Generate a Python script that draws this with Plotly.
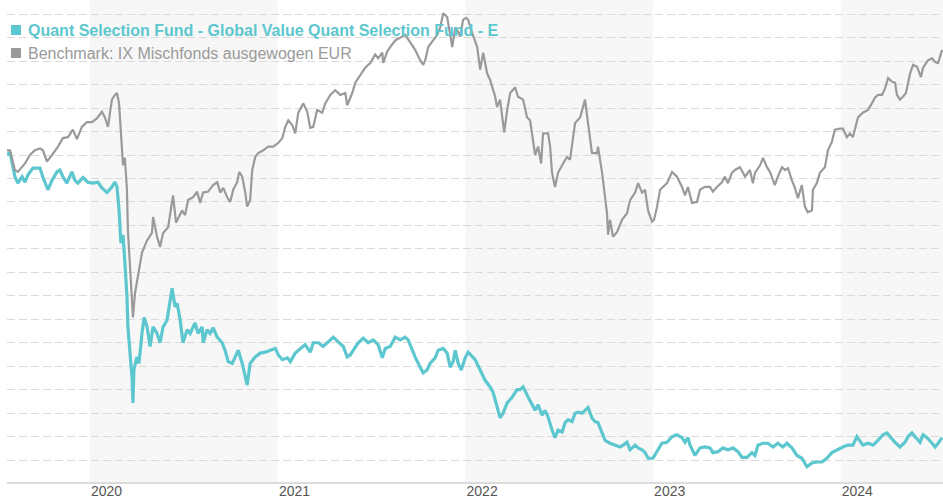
import pandas as pd
import plotly.graph_objects as go

# ---------------- data (decimal years, performance in %) ----------------
bench_t = [2019.558, 2019.574, 2019.600, 2019.616, 2019.654, 2019.680, 2019.707, 2019.734, 2019.750, 2019.771,
           2019.798, 2019.830, 2019.856, 2019.883, 2019.909, 2019.931, 2019.957, 2019.984, 2020.011, 2020.037,
           2020.064, 2020.080, 2020.096, 2020.117, 2020.133, 2020.144, 2020.155, 2020.165, 2020.176, 2020.186,
           2020.197, 2020.202, 2020.213, 2020.224, 2020.229, 2020.240, 2020.256, 2020.277, 2020.304, 2020.330,
           2020.336, 2020.357, 2020.373, 2020.389, 2020.416, 2020.437, 2020.442, 2020.458, 2020.480, 2020.490,
           2020.506, 2020.522, 2020.549, 2020.570, 2020.586, 2020.602, 2020.629, 2020.655, 2020.677, 2020.693,
           2020.709, 2020.730, 2020.746, 2020.762, 2020.783, 2020.794, 2020.810, 2020.826, 2020.836, 2020.852,
           2020.863, 2020.879, 2020.895, 2020.922, 2020.948, 2020.975, 2021.002, 2021.023, 2021.039, 2021.055,
           2021.076, 2021.092, 2021.108, 2021.135, 2021.156, 2021.172, 2021.188, 2021.209, 2021.236, 2021.252,
           2021.279, 2021.305, 2021.332, 2021.359, 2021.369, 2021.396, 2021.412, 2021.438, 2021.465, 2021.492,
           2021.518, 2021.534, 2021.556, 2021.561, 2021.582, 2021.598, 2021.625, 2021.652, 2021.678, 2021.705,
           2021.731, 2021.758, 2021.774, 2021.785, 2021.801, 2021.827, 2021.849, 2021.865, 2021.881, 2021.902,
           2021.918, 2021.929, 2021.945, 2021.961, 2021.971, 2021.987, 2022.003, 2022.014, 2022.035, 2022.051,
           2022.062, 2022.078, 2022.094, 2022.115, 2022.131, 2022.158, 2022.168, 2022.184, 2022.195, 2022.206,
           2022.222, 2022.238, 2022.264, 2022.280, 2022.307, 2022.328, 2022.344, 2022.360, 2022.371, 2022.387,
           2022.403, 2022.413, 2022.440, 2022.451, 2022.461, 2022.477, 2022.493, 2022.520, 2022.541, 2022.557,
           2022.568, 2022.584, 2022.611, 2022.637, 2022.653, 2022.674, 2022.701, 2022.706, 2022.728, 2022.738,
           2022.754, 2022.760, 2022.770, 2022.786, 2022.808, 2022.834, 2022.861, 2022.877, 2022.904, 2022.920,
           2022.941, 2022.957, 2022.973, 2022.994, 2023.005, 2023.021, 2023.037, 2023.074, 2023.101, 2023.127,
           2023.154, 2023.170, 2023.186, 2023.207, 2023.234, 2023.250, 2023.276, 2023.303, 2023.319, 2023.340,
           2023.367, 2023.383, 2023.399, 2023.420, 2023.436, 2023.463, 2023.490, 2023.516, 2023.532, 2023.543,
           2023.570, 2023.586, 2023.607, 2023.623, 2023.649, 2023.665, 2023.687, 2023.703, 2023.719, 2023.740,
           2023.756, 2023.772, 2023.793, 2023.809, 2023.825, 2023.847, 2023.852, 2023.873, 2023.889, 2023.916,
           2023.932, 2023.953, 2023.969, 2023.996, 2024.012, 2024.033, 2024.049, 2024.065, 2024.092, 2024.118,
           2024.145, 2024.166, 2024.182, 2024.198, 2024.220, 2024.236, 2024.252, 2024.273, 2024.289, 2024.299,
           2024.315, 2024.331, 2024.347, 2024.369, 2024.385, 2024.406, 2024.427, 2024.438, 2024.465, 2024.486,
           2024.502, 2024.518, 2024.539]
bench_v = [0.5, 0.5, -1.6, -1.8, -0.9, 0.0, 0.5, 0.7, 0.5, -0.7,
           0.0, 0.9, 1.8, 1.9, 2.7, 1.7, 3.0, 3.5, 3.5, 3.9,
           4.6, 4.0, 3.0, 5.9, 6.4, 6.6, 5.5, 2.7, -1.1, -0.3,
           -3.7, -8.0, -11.9, -16.5, -17.3, -14.7, -13.0, -10.4, -9.1, -8.3,
           -6.6, -8.7, -9.8, -8.3, -7.7, -5.1, -4.3, -7.2, -6.2, -5.9,
           -6.4, -4.8, -4.5, -3.9, -5.1, -4.0, -3.9, -3.2, -2.9, -4.0,
           -3.5, -4.5, -5.0, -3.7, -2.9, -1.8, -2.3, -4.0, -5.5, -4.8,
           -1.6, -0.2, 0.2, 0.5, 0.9, 0.9, 1.3, 1.8, 3.0, 3.7,
           3.2, 2.3, 4.5, 5.5, 4.6, 2.9, 3.0, 4.8, 4.5, 5.5,
           6.4, 6.9, 6.4, 6.6, 5.3, 6.6, 7.7, 8.5, 9.3, 9.8,
           10.7, 10.3, 10.9, 9.8, 11.0, 11.5, 12.2, 12.5, 12.8, 12.0,
           11.2, 10.1, 9.6, 10.1, 11.5, 12.2, 12.8, 13.6, 15.1, 14.7,
           12.6, 11.5, 13.6, 13.1, 12.6, 14.4, 14.6, 14.4, 13.0, 12.2,
           11.5, 9.1, 10.9, 8.7, 8.0, 6.2, 5.1, 5.9, 4.0, 2.4,
           4.8, 6.6, 7.2, 6.2, 5.9, 4.0, 3.7, 1.6, 0.0, 0.9,
           -0.9, 2.3, 2.3, 0.9, -1.9, -3.4, -1.9, -0.9, -0.2, -0.5,
           0.9, 3.4, 4.0, 5.9, 3.4, 0.2, 0.2, 0.9, -1.9, -3.4,
           -6.2, -8.5, -6.9, -8.7, -8.2, -6.9, -6.2, -4.8, -4.0, -3.0,
           -4.0, -3.7, -5.9, -7.1, -6.9, -5.5, -3.7, -3.0, -1.8, -2.3,
           -3.4, -4.3, -3.4, -5.1, -5.0, -3.7, -3.4, -3.4, -3.9, -3.4,
           -2.9, -2.3, -3.0, -1.9, -1.6, -1.3, -2.3, -1.6, -3.0, -1.9,
           -1.1, -0.3, -1.3, -1.8, -3.2, -2.3, -1.3, -1.6, -1.4, -2.7,
           -3.5, -4.6, -3.2, -5.5, -6.1, -5.9, -3.7, -3.0, -1.9, -1.3,
           0.5, 1.4, 2.7, 2.8, 2.8, 1.9, 2.3, 1.9, 4.0, 4.5,
           4.8, 5.5, 6.1, 6.4, 6.4, 7.1, 8.2, 7.8, 7.7, 6.4,
           5.9, 6.2, 6.6, 8.7, 9.6, 9.4, 8.3, 9.3, 10.1, 10.3,
           9.9, 9.8, 11.2]

fund_t = [2019.558, 2019.574, 2019.590, 2019.600, 2019.616, 2019.638, 2019.654, 2019.670, 2019.696, 2019.734,
          2019.750, 2019.776, 2019.798, 2019.824, 2019.840, 2019.856, 2019.877, 2019.893, 2019.904, 2019.920,
          2019.936, 2019.963, 2019.989, 2020.016, 2020.043, 2020.064, 2020.091, 2020.117, 2020.133, 2020.144,
          2020.155, 2020.165, 2020.176, 2020.186, 2020.197, 2020.202, 2020.213, 2020.224, 2020.229, 2020.234,
          2020.250, 2020.261, 2020.277, 2020.288, 2020.304, 2020.320, 2020.336, 2020.357, 2020.373, 2020.389,
          2020.410, 2020.426, 2020.437, 2020.453, 2020.464, 2020.480, 2020.495, 2020.517, 2020.533, 2020.559,
          2020.575, 2020.597, 2020.602, 2020.623, 2020.639, 2020.655, 2020.677, 2020.703, 2020.719, 2020.735,
          2020.757, 2020.773, 2020.789, 2020.810, 2020.826, 2020.836, 2020.852, 2020.879, 2020.906, 2020.932,
          2020.959, 2020.986, 2021.002, 2021.023, 2021.050, 2021.066, 2021.092, 2021.119, 2021.145, 2021.172,
          2021.188, 2021.215, 2021.241, 2021.268, 2021.295, 2021.321, 2021.348, 2021.369, 2021.385, 2021.401,
          2021.428, 2021.454, 2021.481, 2021.508, 2021.534, 2021.556, 2021.572, 2021.598, 2021.625, 2021.652,
          2021.678, 2021.694, 2021.716, 2021.731, 2021.758, 2021.774, 2021.795, 2021.811, 2021.838, 2021.854,
          2021.881, 2021.902, 2021.918, 2021.934, 2021.945, 2021.961, 2021.977, 2021.998, 2022.014, 2022.035,
          2022.051, 2022.078, 2022.104, 2022.131, 2022.147, 2022.168, 2022.184, 2022.200, 2022.222, 2022.248,
          2022.275, 2022.291, 2022.307, 2022.334, 2022.355, 2022.371, 2022.387, 2022.408, 2022.424, 2022.440,
          2022.461, 2022.477, 2022.493, 2022.515, 2022.531, 2022.547, 2022.568, 2022.584, 2022.600, 2022.621,
          2022.637, 2022.653, 2022.674, 2022.690, 2022.706, 2022.728, 2022.744, 2022.770, 2022.797, 2022.824,
          2022.840, 2022.861, 2022.877, 2022.904, 2022.920, 2022.941, 2022.957, 2022.973, 2022.999, 2023.021,
          2023.047, 2023.074, 2023.101, 2023.127, 2023.154, 2023.170, 2023.186, 2023.197, 2023.223, 2023.250,
          2023.276, 2023.303, 2023.319, 2023.346, 2023.372, 2023.399, 2023.426, 2023.452, 2023.474, 2023.500,
          2023.527, 2023.543, 2023.559, 2023.586, 2023.612, 2023.639, 2023.665, 2023.692, 2023.713, 2023.740,
          2023.767, 2023.793, 2023.820, 2023.847, 2023.873, 2023.900, 2023.926, 2023.953, 2023.980, 2024.012,
          2024.038, 2024.065, 2024.086, 2024.102, 2024.118, 2024.145, 2024.172, 2024.198, 2024.225, 2024.246,
          2024.262, 2024.289, 2024.315, 2024.342, 2024.358, 2024.379, 2024.395, 2024.422, 2024.438, 2024.459,
          2024.486, 2024.502, 2024.518, 2024.539]
fund_v = [0.0, 0.3, -1.3, -2.3, -3.0, -2.3, -2.9, -2.1, -1.4, -1.4,
          -2.4, -3.7, -2.7, -1.8, -1.6, -2.3, -3.0, -2.3, -1.8, -2.7,
          -3.0, -2.4, -2.9, -3.0, -2.9, -3.5, -4.0, -3.4, -2.9, -3.4,
          -5.9, -9.4, -8.5, -11.5, -15.1, -18.3, -21.1, -23.7, -26.4, -22.9,
          -21.5, -22.2, -19.0, -17.3, -18.3, -20.4, -18.3, -19.0, -20.0, -18.3,
          -17.6, -15.4, -14.2, -16.2, -15.8, -17.6, -20.0, -18.6, -19.0, -17.9,
          -19.0, -18.3, -20.0, -18.6, -19.0, -18.4, -19.4, -20.0, -20.8, -22.0,
          -22.2, -21.5, -20.8, -22.2, -23.6, -24.5, -22.2, -21.5, -21.1, -21.0,
          -20.8, -20.6, -21.3, -21.8, -21.6, -22.0, -21.1, -20.6, -20.2, -21.0,
          -20.0, -20.0, -20.4, -19.9, -19.4, -19.9, -20.4, -21.5, -21.3, -20.8,
          -20.0, -19.5, -20.0, -19.7, -20.2, -21.6, -20.6, -20.4, -19.4, -19.7,
          -19.4, -19.7, -20.8, -21.5, -22.6, -23.2, -22.9, -22.2, -21.6, -20.8,
          -20.6, -21.1, -22.6, -22.0, -20.8, -22.2, -22.9, -21.6, -21.0, -21.5,
          -21.8, -22.9, -24.0, -24.7, -25.3, -26.8, -28.0, -27.5, -26.4, -25.8,
          -25.0, -25.0, -24.7, -25.8, -26.6, -27.2, -26.6, -27.7, -27.2, -27.9,
          -29.3, -30.1, -29.3, -29.5, -28.5, -28.2, -28.4, -27.5, -27.4, -27.5,
          -27.2, -26.9, -28.0, -28.4, -28.5, -29.6, -30.4, -30.7, -30.9, -31.1,
          -30.9, -30.6, -31.4, -30.9, -31.2, -31.4, -31.7, -32.3, -32.3, -31.6,
          -30.7, -30.6, -30.0, -29.8, -30.1, -30.6, -30.1, -30.9, -32.0, -31.2,
          -31.1, -31.2, -31.7, -31.6, -31.2, -31.4, -31.2, -31.6, -32.2, -32.2,
          -31.7, -32.0, -30.9, -30.7, -30.7, -31.1, -30.7, -31.1, -30.7, -31.2,
          -32.0, -32.3, -33.2, -32.8, -32.7, -32.7, -32.3, -31.7, -31.4, -31.1,
          -30.9, -30.9, -30.0, -30.4, -30.9, -30.7, -30.9, -30.4, -29.8, -29.6,
          -30.0, -30.6, -31.1, -30.6, -30.0, -29.6, -30.0, -30.6, -29.8, -30.1,
          -30.7, -31.1, -30.7, -30.1]

series_names = ["Quant Selection Fund - Global Value Quant Selection Fund - E",
                "Benchmark: IX Mischfonds ausgewogen EUR"]
tick_years = [2020, 2021, 2022, 2023, 2024]
band_years = [2020, 2022, 2024]

assert len(bench_t) == len(bench_v), (len(bench_t), len(bench_v))
assert len(fund_t) == len(fund_v), (len(fund_t), len(fund_v))

FUND_COLOR = "#5cc7ce"
BENCH_COLOR = "#9a9a9a"


def to_date(t):
    y = int(t)
    start = pd.Timestamp(year=y, month=1, day=1)
    end = pd.Timestamp(year=y + 1, month=1, day=1)
    return start + (end - start) * (t - y)


bench_d = [to_date(t) for t in bench_t]
fund_d = [to_date(t) for t in fund_t]

fig = go.Figure()
fig.add_trace(go.Scatter(x=fund_d, y=fund_v, mode="lines", name=series_names[0],
                         line=dict(color=FUND_COLOR, width=3.2)))
fig.add_trace(go.Scatter(x=bench_d, y=bench_v, mode="lines", name=series_names[1],
                         line=dict(color=BENCH_COLOR, width=2.2)))

for y in band_years:
    fig.add_shape(type="rect", xref="x", yref="paper",
                  x0=f"{y}-01-01", x1=f"{y + 1}-01-01", y0=0, y1=1,
                  fillcolor="rgba(244,244,244,0.72)", line=dict(width=0), layer="between")

# legend (custom, top-left, drawn over plot)
legend_colors = [FUND_COLOR, BENCH_COLOR]
legend_weights = ["bold", "normal"]
for i, (name, col) in enumerate(zip(series_names, legend_colors)):
    yoff = -30 - 23 * i
    fig.add_shape(type="rect", xref="paper", yref="paper",
                  xsizemode="pixel", ysizemode="pixel", xanchor=0, yanchor=1,
                  x0=4, x1=14, y0=yoff - 5, y1=yoff + 5,
                  fillcolor=col, line=dict(width=0), layer="above")
    txt = f"<b>{name}</b>" if legend_weights[i] == "bold" else name
    fig.add_annotation(x=0, y=1, xref="paper", yref="paper", xanchor="left", yanchor="middle",
                       xshift=19, yshift=yoff, text=txt, showarrow=False,
                       font=dict(family="Liberation Sans, Arial, sans-serif", size=16, color=col))

fig.update_layout(
    width=943, height=500,
    margin=dict(l=7, r=0, t=0, b=18, autoexpand=False),
    paper_bgcolor="white", plot_bgcolor="white",
    showlegend=False,
    hovermode=False,
)
fig.update_xaxes(
    type="date", automargin=False,
    range=[bench_d[0], to_date(2024.544)],
    showgrid=False, zeroline=False,
    showline=True, linecolor="#dcdcdc", linewidth=2,
    tickvals=[f"{y}-01-01" for y in tick_years],
    ticktext=[str(y) for y in tick_years],
    ticks="", ticklabelposition="outside right", ticklabelstandoff=-5,
    tickfont=dict(family="Liberation Sans, Arial, sans-serif", size=14, color="#555555"),
)
fig.update_yaxes(
    automargin=False,
    range=[-34.83, 16.51],
    tick0=0, dtick=2.5,
    showticklabels=False, ticks="",
    showgrid=True, gridcolor="#dadada", gridwidth=1, griddash="8px,4px",
    zeroline=False, showline=False,
)

fig.write_html(
    "out.html",
    config={"displayModeBar": False},
    post_script="document.body.style.margin='0';document.body.style.overflow='hidden';",
)
